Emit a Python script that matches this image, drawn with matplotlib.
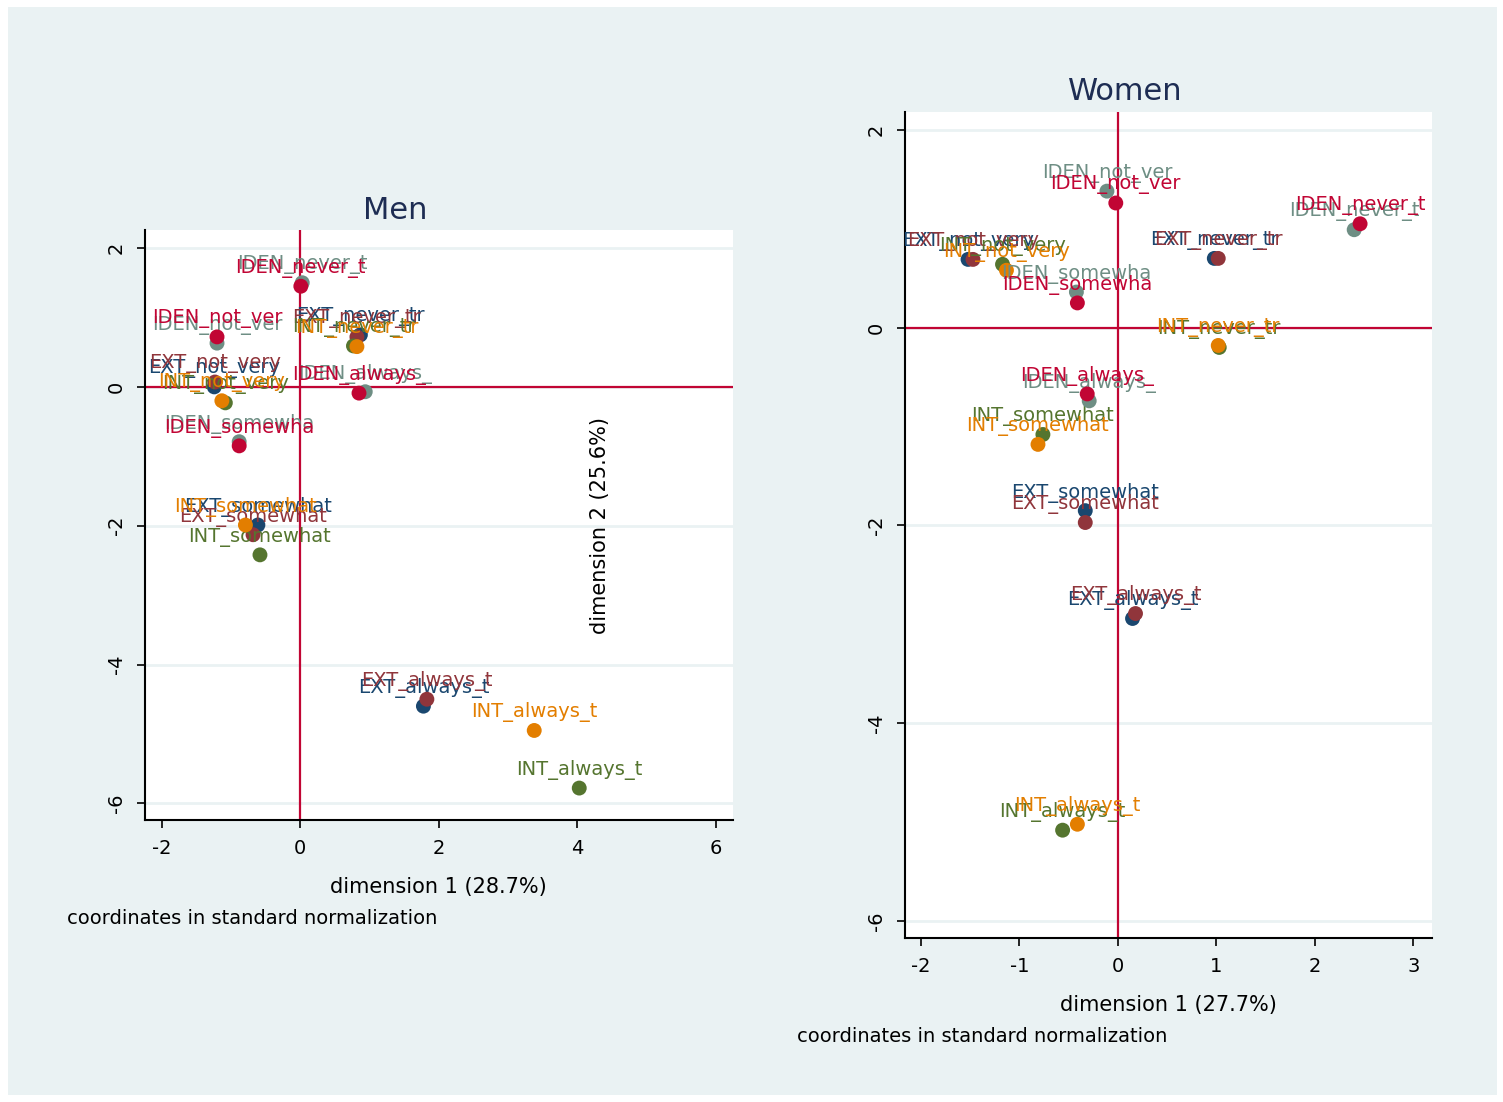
import matplotlib
matplotlib.use('Agg')
import matplotlib.pyplot as plt
from matplotlib.patches import Rectangle

plt.rcParams['font.family'] = ['DejaVu Sans']
plt.rcParams['axes.unicode_minus'] = False

# series colours (Stata s2color)
colors = ['#1a476f', '#90353b', '#55752f', '#e37e00', '#6e8e84', '#c10534']

ext_labels = ['EXT_never_tr', 'EXT_not_very', 'EXT_somewhat', 'EXT_always_t']
int_labels = ['INT_never_tr', 'INT_not_very', 'INT_somewhat', 'INT_always_t']
iden_labels = ['IDEN_never_t', 'IDEN_not_ver', 'IDEN_always_', 'IDEN_somewha']
labels = [ext_labels, ext_labels, int_labels, int_labels, iden_labels, iden_labels]

# Men
men_x = [
    [0.87, -1.24, -0.61, 1.78],
    [0.82, -1.23, -0.68, 1.83],
    [0.77, -1.08, -0.58, 4.03],
    [0.82, -1.13, -0.79, 3.38],
    [0.03, -1.20, 0.94, -0.88],
    [0.01, -1.20, 0.85, -0.88],
]
men_y = [
    [0.75, 0.00, -1.99, -4.60],
    [0.72, 0.07, -2.13, -4.50],
    [0.59, -0.23, -2.42, -5.78],
    [0.58, -0.20, -1.99, -4.95],
    [1.50, 0.63, -0.07, -0.79],
    [1.45, 0.72, -0.09, -0.85],
]

# Women
women_x = [
    [0.98, -1.52, -0.33, 0.15],
    [1.02, -1.47, -0.33, 0.18],
    [1.03, -1.17, -0.76, -0.56],
    [1.02, -1.13, -0.81, -0.41],
    [2.40, -0.11, -0.29, -0.42],
    [2.46, -0.02, -0.31, -0.41],
]
women_y = [
    [0.70, 0.69, -1.85, -2.94],
    [0.70, 0.69, -1.97, -2.89],
    [-0.20, 0.64, -1.08, -5.08],
    [-0.18, 0.58, -1.18, -5.02],
    [0.99, 1.38, -0.74, 0.36],
    [1.05, 1.26, -0.67, 0.25],
]

bg = '#eaf2f3'
W, H = 1503, 1102
fig = plt.figure(figsize=(W / 100, H / 100), dpi=100, facecolor='white')
fig.patches.append(Rectangle((8 / W, 7 / H), (1497 - 8) / W, (1095 - 7) / H,
                             transform=fig.transFigure, facecolor=bg,
                             edgecolor='none', zorder=-10))


def panel(rect, xs, ys, xlim, ylim, xticks, yticks):
    ax = fig.add_axes(rect)
    ax.set_facecolor('white')
    ax.set_xlim(*xlim)
    ax.set_ylim(*ylim)
    for s in ['top', 'right']:
        ax.spines[s].set_visible(False)
    for s in ['left', 'bottom']:
        ax.spines[s].set_linewidth(1.5)
        ax.spines[s].set_color('black')
    ax.set_xticks(xticks)
    ax.set_yticks(yticks)
    ax.tick_params(direction='out', length=6, width=1.2, labelsize=14,
                   colors='black', pad=8)
    for t in ax.get_yticklabels():
        t.set_rotation(90)
        t.set_va('center')
    for yv in yticks:
        ax.axhline(yv, color=bg, lw=2, zorder=0)
    ax.axhline(0, color='#c10534', lw=1.6, zorder=1)
    ax.axvline(0, color='#c10534', lw=1.6, zorder=1)
    for i in range(6):
        ax.scatter(xs[i], ys[i], s=115, color=colors[i], zorder=3 + i,
                   edgecolors='none')
        for lab, xv, yv in zip(labels[i], xs[i], ys[i]):
            ax.annotate(lab, (xv, yv), xytext=(0, 13), textcoords='offset points',
                        ha='center', va='center', fontsize=14,
                        color=colors[i], zorder=3 + i)
    return ax


men = panel([145 / W, 1 - 820 / H, (733 - 145) / W, (820 - 230) / H],
            men_x, men_y, (-2.24, 6.25), (-6.24, 2.26),
            [-2, 0, 2, 4, 6], [-6, -4, -2, 0, 2])
women = panel([905 / W, 1 - 938 / H, (1432 - 905) / W, (938 - 112) / H],
              women_x, women_y, (-2.16, 3.19), (-6.17, 2.18),
              [-2, -1, 0, 1, 2, 3], [-6, -4, -2, 0, 2])

title_col = '#1e2d53'
fig.text(395 / W, 1 - 211 / H, 'Men', fontsize=22, color=title_col,
         ha='center', va='center')
fig.text(1125 / W, 1 - 92 / H, 'Women', fontsize=22, color=title_col,
         ha='center', va='center')

fig.text(438 / W, 1 - 887 / H, 'dimension 1 (28.7%)', fontsize=15,
         ha='center', va='center')
fig.text(67 / W, 1 - 918 / H, 'coordinates in standard normalization',
         fontsize=14, ha='left', va='center')
fig.text(1168 / W, 1 - 1005 / H, 'dimension 1 (27.7%)', fontsize=15,
         ha='center', va='center')
fig.text(797 / W, 1 - 1037 / H, 'coordinates in standard normalization',
         fontsize=14, ha='left', va='center')
fig.text(600 / W, 1 - 525 / H, 'dimension 2 (25.6%)', fontsize=15,
         rotation=90, ha='center', va='center')

fig.savefig('out.png', dpi=100, facecolor='white')
